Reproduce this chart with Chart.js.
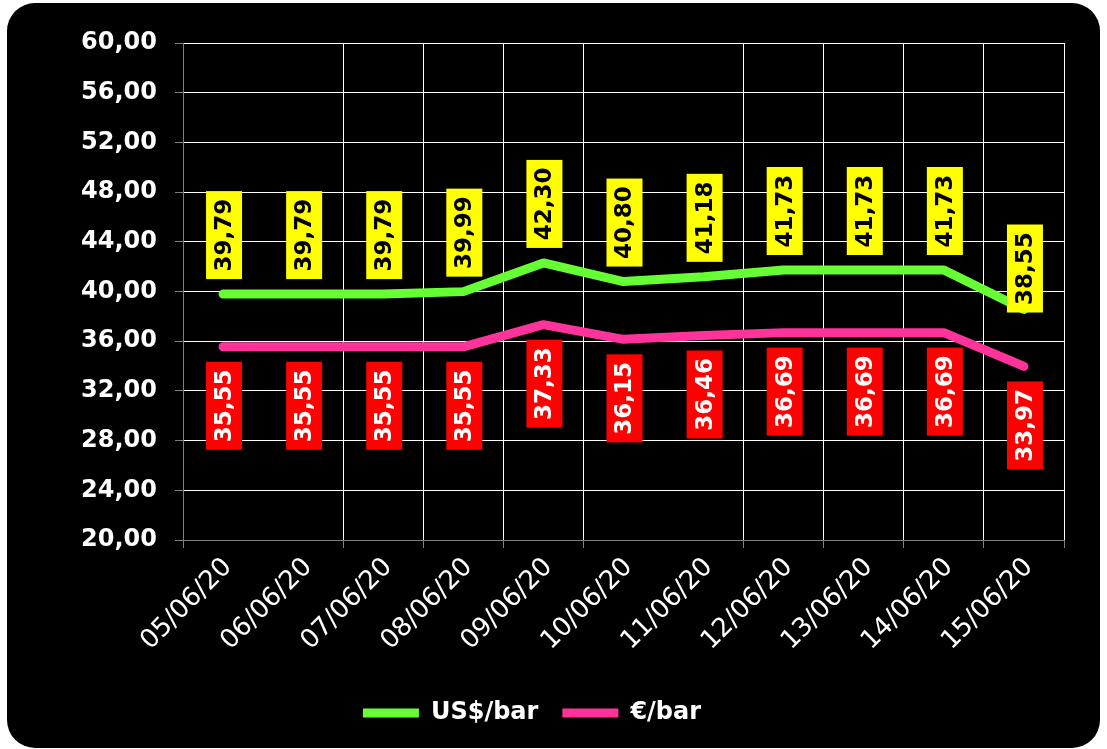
<!DOCTYPE html>
<html>
<head>
<meta charset="utf-8">
<script src="https://cdn.jsdelivr.net/npm/chart.js@4/dist/chart.umd.min.js"></script>
<style>
  html, body { margin: 0; padding: 0; background: #ffffff; }
  canvas { display: block; }
</style>
</head>
<body>
<canvas id="petroleoChart" width="1107" height="749"></canvas>
<script>
// Datos
const fechas = ["05/06/20", "06/06/20", "07/06/20", "08/06/20", "09/06/20", "10/06/20",
  "11/06/20", "12/06/20", "13/06/20", "14/06/20", "15/06/20"];
const dolarBarril = [39.79, 39.79, 39.79, 39.99, 42.30, 40.80, 41.18, 41.73, 41.73, 41.73, 38.55];
const euroBarril = [35.55, 35.55, 35.55, 35.55, 37.33, 36.15, 36.46, 36.69, 36.69, 36.69, 33.97];
const ejeMin = 20;
const ejeMax = 60;
const ejePaso = 4;

const fmt = (v) => v.toFixed(2).replace(".", ",");

// Fondo negro redondeado
const fondo = {
  id: "fondo",
  beforeDraw(chart) {
    const c = chart.ctx;
    const x = 7, y = 3, w = 1093, h = 745, r = 28;
    c.save();
    c.fillStyle = "#ffffff";
    c.fillRect(0, 0, chart.width, chart.height);
    c.beginPath();
    c.moveTo(x + r, y);
    c.lineTo(x + w - r, y);
    c.arcTo(x + w, y, x + w, y + r, r);
    c.lineTo(x + w, y + h - r);
    c.arcTo(x + w, y + h, x + w - r, y + h, r);
    c.lineTo(x + r, y + h);
    c.arcTo(x, y + h, x, y + h - r, r);
    c.lineTo(x, y + r);
    c.arcTo(x, y, x + r, y, r);
    c.closePath();
    c.fillStyle = "#000000";
    c.fill();
    c.restore();
  }
};

// Etiquetas verticales con caja de color
const etiquetas = {
  id: "etiquetas",
  afterDatasetsDraw(chart, args, opts) {
    const c = chart.ctx;
    chart.data.datasets.forEach((ds, i) => {
      const meta = chart.getDatasetMeta(i);
      const st = opts.estilos[i];
      meta.data.forEach((pt, j) => {
        const val = ds.data[j];
        const bw = 36, bh = 88;
        const shift = (st.shift && st.shift[j]) || 0;
        let top;
        if (st.arriba) top = pt.y - 15 - bh + shift;
        else top = pt.y + 15 + shift;
        const left = pt.x - bw / 2 + 1;
        c.save();
        c.fillStyle = st.fondo;
        c.fillRect(left, top, bw, bh);
        c.translate(left + bw / 2, top + bh / 2);
        c.rotate(-Math.PI / 2);
        c.fillStyle = st.texto;
        c.font = "bold 23px 'DejaVu Sans'";
        c.textAlign = "center";
        c.textBaseline = "middle";
        c.fillText(fmt(val), 0, 1);
        c.restore();
      });
    });
  }
};

const ocultas = [1, 6];

const ctx = document.getElementById("petroleoChart").getContext("2d");
new Chart(ctx, {
  type: "line",
  data: {
    labels: fechas,
    datasets: [
      {
        label: "US$/bar",
        data: dolarBarril,
        borderColor: "#66ff33",
        backgroundColor: "#66ff33",
        borderWidth: 9,
        borderCapStyle: "round",
        borderJoinStyle: "round",
        tension: 0,
        pointRadius: 0,
        pointStyle: "line"
      },
      {
        label: "€/bar",
        data: euroBarril,
        borderColor: "#ff3399",
        backgroundColor: "#ff3399",
        borderWidth: 9,
        borderCapStyle: "round",
        borderJoinStyle: "round",
        tension: 0,
        pointRadius: 0,
        pointStyle: "line"
      }
    ]
  },
  options: {
    responsive: false,
    animation: false,
    devicePixelRatio: 1,
    layout: { padding: { top: 43, right: 43, left: 0, bottom: 14 } },
    plugins: {
      legend: {
        position: "bottom",
        labels: {
          color: "#ffffff",
          font: { family: "'DejaVu Sans'", size: 24, weight: "bold" },
          usePointStyle: true,
          pointStyle: "line",
          pointStyleWidth: 56,
          padding: 24
        }
      },
      tooltip: { enabled: false },
      etiquetas: {
        estilos: [
          { fondo: "#ffff00", texto: "#000000", arriba: true, shift: [0, 0, 0, 0, 0, 0, 0, 0, 0, 0, 18] },
          { fondo: "#ff0000", texto: "#ffffff", arriba: false }
        ]
      }
    },
    scales: {
      x: {
        offset: true,
        grid: {
          offset: true,
          color: (c) => ocultas.includes(c.index) ? "rgba(0,0,0,0)" : "#ffffff",
          tickColor: (c) => ocultas.includes(c.index) ? "rgba(0,0,0,0)" : "#808080",
          tickLength: 8,
          lineWidth: 1
        },
        border: { color: "#808080", width: 1 },
        ticks: {
          color: "#ffffff",
          font: { family: "'DejaVu Sans'", size: 26 },
          minRotation: 45,
          maxRotation: 45,
          padding: 4,
          labelOffset: 5,
          autoSkip: false
        },
        afterFit(scale) { scale.height = 137; }
      },
      y: {
        min: ejeMin,
        max: ejeMax,
        grid: {
          color: "#ffffff",
          tickColor: "#808080",
          tickLength: 8,
          lineWidth: 1
        },
        border: { color: "#808080", width: 1 },
        ticks: {
          stepSize: ejePaso,
          color: "#ffffff",
          font: { family: "'DejaVu Sans'", size: 24, weight: "bold" },
          padding: 18,
          callback: (v) => fmt(v)
        },
        afterFit(scale) { scale.width = 183; }
      }
    }
  },
  plugins: [fondo, etiquetas]
});
</script>
</body>
</html>
